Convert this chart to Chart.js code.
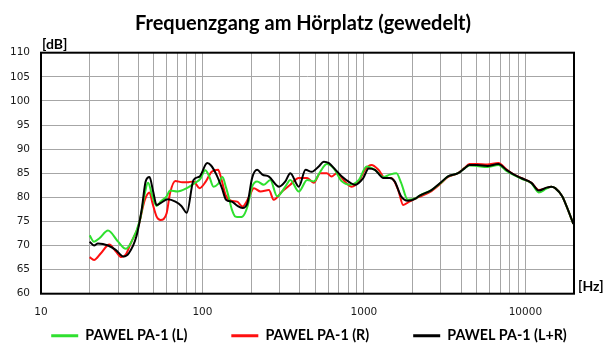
<!DOCTYPE html>
<html lang="de">
<head>
<meta charset="utf-8">
<title>Frequenzgang am Hörplatz</title>
<script src="https://cdn.jsdelivr.net/npm/chart.js@4.4.1/dist/chart.umd.min.js"></script>
<style>
  body { margin: 0; background: #fff; }
  canvas { display: block; }
</style>
</head>
<body>
<canvas id="fgChart" width="606" height="364"></canvas>
<script>
const freqL = [20,21.3,23,26,30,33.5,36,41,44,46,49,52,55,60,63,70,80,90,97,104,110,117,125,133,140,145,152,160,170,177,190,203,218,240,263,290,326,350,395,445,489,536,589,650,730,825,930,1040,1170,1320,1445,1590,1700,1870,2100,2200,2620,3000,3300,3830,4200,4500,5000,5800,6800,7630,8500,9400,10900,12100,13500,14500,15300,16900,18000,19800];
const dbL = [72.1,70.8,71.5,73.1,70.8,69.3,70.5,75.3,80.9,83,80.2,78.2,79.1,80.2,81.4,81.2,81.9,83,83.8,85.6,84.4,82.2,82.8,84.2,82,80.2,77.5,76,75.9,76,78.1,82.2,83.3,82.6,83.6,80.2,82.2,83.6,81.2,83.6,83.3,85.3,86.9,86,83.3,82.6,83.6,86.4,85.7,84.2,84.7,85,83,79.5,79.8,80.3,81.5,83,84.3,85,86,86.6,86.5,86.3,86.7,85.5,84.6,83.9,82.9,81,81.8,82.2,81.9,80.2,78.1,74.5];

const freqR = [20,21.3,23.5,26.5,29,31.5,33.5,36,40,44,47,49,52,55,60,63,68,75,80,88,96,105,114,125,130,139,150,164,177,195,208,229,258,276,311,350,395,445,489,536,589,630,680,760,840,930,1015,1115,1230,1350,1480,1630,1750,1910,2100,2200,2620,3000,3300,3830,4200,4500,5000,5800,6800,7630,8500,9400,10900,12100,13500,14500,15300,16900,18000,19800];
const dbR = [67.6,67.0,68.4,70.2,68.8,67.6,68.1,70.5,73.9,79.5,81,78.8,76,75.3,76.7,80.9,83.4,83.1,83.1,83.3,81.9,83.3,85.3,85.7,84.2,80.5,79.3,79.1,78.1,80.2,81.9,81.2,81.5,79.5,81.2,82.6,84,84,83,85,85,84.3,85,83.3,82.2,83.3,85.7,86.7,85.7,84,84,81.5,78.4,79.1,79.8,80.1,81.3,82.9,84.2,85,86.1,86.9,86.9,86.8,87.1,85.8,84.7,84,83,81.5,81.9,82.2,81.9,80.2,78.1,74.5];

const freqLR = [20,21.3,22.5,26,29,32.5,35,39,42,44.5,47,49.5,52,55,61,68,74,80,88,96,107,113,122,132,140,152,165,177,190,203,218,235,258,298,326,350,395,435,475,525,564,607,667,730,825,880,990,1070,1170,1320,1445,1550,1700,1870,2100,2200,2620,3000,3300,3830,4200,4500,5000,5820,6800,7630,8500,9400,10900,12100,13500,14500,15300,16900,18000,19800];
const dbLR = [70.8,70.0,70.4,70.0,69.1,67.7,68.4,71.9,77.4,83.3,84.2,81.2,78.4,78.8,79.6,79.1,78.2,76.8,83.6,84.3,87.1,86.6,84.7,81.9,79.5,79.1,78.2,77.8,78.8,84,85.7,84.7,84.3,82.2,83.3,85,82.2,85.7,85.3,86.4,87.4,87.1,85.7,84.3,83,82.6,84,86,85.7,84,84,83.3,80.2,79.3,79.8,80.3,81.5,83.1,84.3,85,86,86.7,86.7,86.5,86.9,85.7,84.7,84,83,81.4,82,82.2,81.9,80.2,78.1,74.5];

// Rasterlinien der x-Achse und welche davon beschriftet werden
const gridFreqs = [10,20,30,40,50,60,70,80,90,100,200,300,400,500,600,700,800,900,1000,2000,3000,4000,5000,6000,7000,8000,9000,10000,20000];
const freqLabels = [10,100,1000,10000];

// Punkte fuer Chart.js zusammenbauen
function toPoints(freqs, dbs) {
  return freqs.map((f, i) => ({ x: f, y: dbs[i] }));
}

// Rahmen um die Zeichenflaeche und Einheiten
const rahmenPlugin = {
  id: 'rahmen',
  afterLayout(chart) {
    // Legende naeher an die Achse, Platz fuer die x-Beschriftung
    const lg = chart.legend;
    lg.top -= 11;
    lg.bottom -= 11;
    lg.left += 6;
    lg.right += 6;
    chart.scales.x.bottom = chart.scales.x.top + 30;
  },
  afterDraw(chart) {
    const ctx = chart.ctx;
    const a = chart.chartArea;
    ctx.save();
    ctx.strokeStyle = '#000';
    ctx.lineWidth = 2;
    ctx.strokeRect(a.left, a.top, a.right - a.left, a.bottom - a.top);
    ctx.fillStyle = '#000';
    ctx.font = 'bold 14px Lato';
    ctx.textBaseline = 'alphabetic';
    ctx.textAlign = 'left';
    ctx.fillText('[dB]', a.left + 1, a.top - 4);
    ctx.fillText('[Hz]', a.right + 4, a.bottom - 3);
    ctx.restore();
  }
};

const ctx = document.getElementById('fgChart').getContext('2d');
const fgChart = new Chart(ctx, {
  type: 'line',
  data: {
    datasets: [
      {
        label: 'PAWEL PA-1 (L)',
        data: toPoints(freqL, dbL),
        borderColor: '#2fe02f',
        backgroundColor: '#2fe02f',
        order: 1
      },
      {
        label: 'PAWEL PA-1 (R)',
        data: toPoints(freqR, dbR),
        borderColor: '#ff1010',
        backgroundColor: '#ff1010',
        order: 2
      },
      {
        label: 'PAWEL PA-1 (L+R)',
        data: toPoints(freqLR, dbLR),
        borderColor: '#000000',
        backgroundColor: '#000000',
        order: 0
      }
    ]
  },
  options: {
    responsive: false,
    animation: false,
    layout: { padding: 0 },
    elements: {
      point: { radius: 0, borderWidth: 3 },
      line: { borderWidth: 2, cubicInterpolationMode: 'monotone' }
    },
    scales: {
      x: {
        type: 'logarithmic',
        min: 10,
        max: 20000,
        afterBuildTicks: function(scale) {
          scale.ticks = gridFreqs.map(v => ({ value: v }));
        },
        afterFit: function(scale) {
          scale.height = 2;
        },
        ticks: {
          autoSkip: false,
          maxRotation: 0,
          padding: 12,
          color: '#1a1a1a',
          font: { family: 'DejaVu Sans', size: 10.5 },
          callback: function(value) {
            return freqLabels.includes(value) ? String(value) : '';
          }
        },
        grid: { color: '#a6a6a6', lineWidth: 1, drawTicks: false },
        border: { display: false }
      },
      y: {
        min: 60,
        max: 110,
        afterFit: function(scale) {
          scale.width = 41;
        },
        ticks: {
          stepSize: 5,
          padding: 11,
          color: '#1a1a1a',
          font: { family: 'DejaVu Sans', size: 10.5 }
        },
        grid: { color: '#a6a6a6', lineWidth: 1, drawTicks: false },
        border: { display: false }
      },
      // leere Achse rechts, haelt Platz fuer [Hz] frei
      yRechts: {
        position: 'right',
        display: true,
        min: 60,
        max: 110,
        afterFit: function(scale) {
          scale.width = 32;
        },
        ticks: { display: false },
        grid: { display: false },
        border: { display: false }
      }
    },
    plugins: {
      title: {
        display: true,
        text: 'Frequenzgang am Hörplatz (gewedelt)',
        color: '#000',
        font: { family: 'Lato', weight: 'bold', size: 20 },
        padding: { top: 12, bottom: 16.7 }
      },
      legend: {
        position: 'bottom',
        labels: {
          usePointStyle: true,
          pointStyle: 'line',
          pointStyleWidth: 27,
          padding: 44,
          color: '#000',
          font: { family: 'Lato', weight: 'bold', size: 14.3 },
          sort: (a, b) => a.datasetIndex - b.datasetIndex
        }
      },
      tooltip: { enabled: false } // keine Tooltips
    }
  },
  plugins: [rahmenPlugin]
});
</script>
</body>
</html>
